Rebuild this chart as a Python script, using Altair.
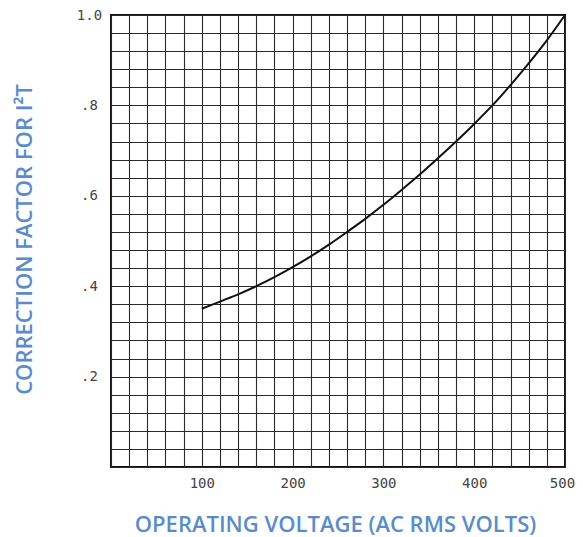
import altair as alt
import pandas as pd

voltage = [100, 120, 140, 160, 180, 200, 220, 240, 260, 280, 300,
           320, 340, 360, 380, 400, 420, 440, 460, 480, 500]
factor = [0.350, 0.366, 0.382, 0.400, 0.420, 0.442, 0.466, 0.492, 0.520, 0.549, 0.580,
          0.613, 0.647, 0.683, 0.720, 0.759, 0.800, 0.845, 0.893, 0.944, 1.000]

x_grid = list(range(0, 501, 20))
y_grid = [round(i * 0.04, 2) for i in range(0, 26)]

df = pd.DataFrame({"v": voltage, "f": factor})

blue = "#5b8cc8"
mono = "DejaVu Sans Mono"
title_font = "Open Sans"
grid_col = "#2a2a2a"

chart = alt.Chart(df).mark_line(color="#111", strokeWidth=2, interpolate="monotone").encode(
    x=alt.X("v:Q", scale=alt.Scale(domain=[0, 500], nice=False, zero=True),
            axis=alt.Axis(values=x_grid, grid=True, ticks=False, domain=False,
                          gridColor=grid_col, gridWidth=1.1, gridOpacity=1,
                          labelFlush=False,
                          labelOffset={"condition": {"test": "datum.value == 500", "value": -3}, "value": 0},
                          labelExpr="datum.value % 100 == 0 && datum.value > 0 ? datum.label : ''",
                          labelFont=mono, labelFontSize=14, labelColor="#444", labelPadding=9,
                          title="OPERATING VOLTAGE (AC RMS VOLTS)",
                          titleFont=title_font, titleFontSize=22, titleFontWeight=600,
                          titleColor=blue, titleX=224, titleY=57, titleAlign="center",
                          titleBaseline="middle")),
    y=alt.Y("f:Q", scale=alt.Scale(domain=[0, 1], nice=False),
            axis=alt.Axis(values=y_grid, grid=True, ticks=False, domain=False,
                          gridColor=grid_col, gridWidth=1.1, gridOpacity=1,
                          labelFlush=False,
                          labelExpr="datum.value > 0 && round(datum.value * 100) % 20 == 0 ? (datum.value >= 1 ? '1.0' : replace(format(datum.value, '.1f'), '0.', '.')) : ''",
                          labelFont=mono, labelFontSize=14, labelColor="#444", labelPadding=22,
                          labelAlign="center",
                          title="CORRECTION FACTOR FOR I²T",
                          titleFont=title_font, titleFontSize=22, titleFontWeight=600,
                          titleColor=blue, titleX=-87, titleY=224, titleAngle=-90,
                          titleAlign="center", titleBaseline="middle")),
).properties(
    width=454, height=452,
    padding={"left": 103, "top": 7, "right": 10, "bottom": 70},
    autosize=alt.AutoSizeParams(type="none"),
    background="white",
).configure_view(
    stroke="#111", strokeWidth=2,
)

chart.save("out.html", embed_options={"renderer": "svg", "actions": False})
